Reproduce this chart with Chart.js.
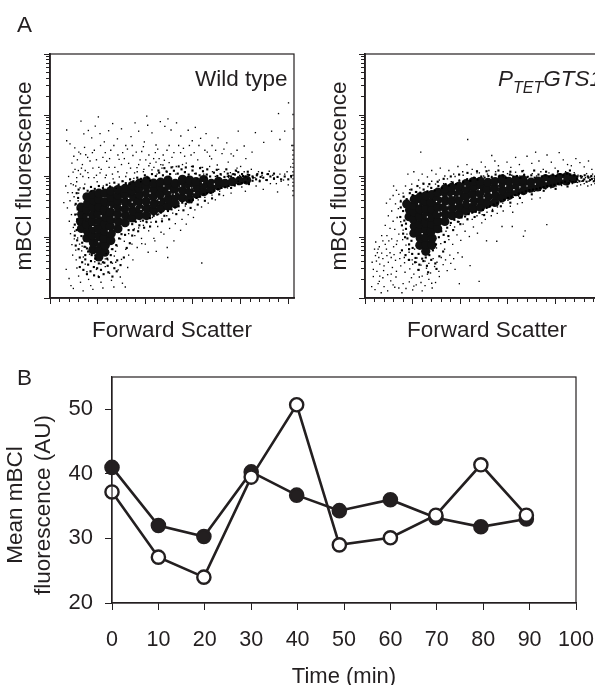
<!DOCTYPE html>
<html><head><meta charset="utf-8">
<script src="https://cdn.jsdelivr.net/npm/chart.js@4"></script>
<style>
html,body{margin:0;padding:0;background:#fff;width:595px;height:685px;overflow:hidden}
canvas{position:absolute}
.t{position:absolute;font-family:"Liberation Sans",Arial,sans-serif;font-size:22.5px;color:#231f20;white-space:nowrap;line-height:24px}
</style></head><body>
<canvas id="wt" style="left:0;top:0"></canvas>
<canvas id="tet" style="left:300px;top:0"></canvas>
<canvas id="time" style="left:0;top:360px"></canvas>
<div class="t" style="left:17px;top:13px">A</div>
<div class="t" style="left:17px;top:366px">B</div>
<div class="t" style="left:195px;top:67px">Wild type</div>
<div class="t" style="left:498px;top:67px;font-style:italic">P<span style="font-size:16px;position:relative;top:7px">TET</span>GTS1</div>
<div class="t" style="left:15px;top:505px;transform:translate(-50%,-50%) rotate(-90deg)">Mean mBCl</div>
<div class="t" style="left:43px;top:505px;transform:translate(-50%,-50%) rotate(-90deg)">fluorescence (AU)</div>
<script>
const INK='#231f20';
const FONT='"Liberation Sans",Arial,sans-serif';
// Flow cytometry channels (0-1023), y channels span four log decades
const xMajor=[0,200,400,600,800,1000];
const xMinor=[40,80,120,160,240,280,320,360,440,480,520,560,640,680,720,760,840,880,920,960];
const yMajor=[0,256,512,768,1024];
const yMinor=[77,122,154,179,199,216,231,244,333,378,410,435,455,472,487,500,589,634,666,691,711,728,743,756,845,890,922,947,967,984,999,1012];
const wtCore=[132,292,128,322,133,352,130,381,155,252,157,281,153,311,156,341,154,371,158,398,155,425,180,203,182,232,178,262,181,291,179,321,183,351,180,381,184,409,180,435,205,172,207,201,203,232,206,261,204,291,207,321,203,352,206,381,204,414,205,440,230,192,232,221,228,252,231,281,229,311,232,341,229,371,231,404,230,440,255,241,257,271,253,301,256,331,254,361,257,394,255,424,255,450,285,291,287,321,283,351,286,381,284,409,286,431,285,455,315,316,317,346,313,376,316,404,314,436,315,460,345,336,347,366,343,396,346,424,344,450,345,472,375,346,377,376,373,406,376,434,374,461,375,482,405,346,407,376,403,406,406,439,404,470,405,492,435,366,437,396,433,426,436,455,435,482,465,376,467,406,463,436,466,464,464,486,495,386,497,416,493,446,496,474,495,495,525,396,527,426,523,456,526,481,555,421,557,451,553,479,556,498,585,416,587,446,583,476,586,495,615,436,617,466,613,489,645,446,647,476,645,497,675,456,677,481,705,471,707,490,735,481,765,488,795,492,825,495];
const wtFleck=[180,300,215,345,245,282,300,388,345,402,382,372,420,440,458,410,500,452,548,470,590,462,640,484,250,382,160,340,205,236,268,340,330,418,478,470,522,436,605,442,690,478];
const wtHalo=[
120,455,142,460,158,450,172,466,188,458,205,470,222,462,238,475,252,468,270,484,288,476,304,490,318,482,336,498,350,490,366,505,382,500,398,515,412,505,428,520,444,512,458,526,474,515,490,530,504,520,520,534,536,522,552,540,566,528,582,518,598,535,612,522,628,515,642,532,658,518,672,510,688,526,702,512,716,520,732,508,746,522,760,510,776,518,790,506,806,520,820,510,836,516,852,505,868,515,884,508,
455,535,480,545,510,548,540,552,570,548,600,552,630,545,660,540,700,538,740,540,780,535,830,530,
112,440,118,420,108,395,116,372,106,350,114,330,104,308,112,285,104,262,114,242,108,220,120,205,132,260,135,232,145,215,155,208,148,180,160,195,175,180,190,165,205,145,222,150,240,165,255,180,262,205,278,222,290,250,300,268,
125,170,135,150,148,162,160,140,172,155,184,130,198,125,214,118,228,148,242,135,256,150,270,125,282,158,296,138,310,170,322,210,335,230,345,262,
125,130,140,118,155,100,170,112,185,95,205,88,225,100,245,108,262,90,280,112,
315,265,330,285,345,310,360,320,375,305,390,325,405,320,420,335,435,345,450,350,465,358,480,345,495,365,510,372,525,380,540,385,555,400,570,395,585,408,600,412,615,420,630,425,645,435,660,440,675,442,690,450,705,456,720,462,735,465,750,470,
350,285,370,280,395,295,420,300,445,320,470,322,500,330,530,352,560,368,590,378,620,392,650,408,680,418,710,435,
760,462,775,472,790,478,805,482,820,486,835,478,850,492,865,498,880,490,895,505,910,495,925,510,940,500,955,508,970,498,985,510,1000,498,1012,512,
750,512,770,520,790,528,810,512,830,518,850,510,870,520,890,525,915,520,940,522,
];
const wtSpeck=[
203,760,406,763,130,742,70,660,70,705,104,630,121,612,84,647,142,689,161,703,175,672,190,721,210,690,228,655,246,702,263,732,283,668,300,710,318,640,340,677,357,735,372,700,396,655,410,725,428,693,445,642,463,740,482,720,495,752,508,705,531,735,549,680,560,628,580,704,597,660,610,716,632,670,655,690,680,640,705,672,742,651,790,700,815,638,862,694,897,653,930,700,959,774,1001,819,985,700,1015,640,965,665,
92,566,115,580,136,560,150,601,168,575,186,620,205,548,222,590,238,574,255,620,272,548,290,582,305,610,330,565,348,598,365,547,385,615,402,580,420,565,442,610,458,585,470,545,491,620,512,590,530,552,548,610,572,566,592,600,620,580,640,548,660,612,678,584,702,558,722,606,748,570,770,596,800,552,822,585,848,612,
100,595,128,605,145,632,158,590,178,610,195,580,212,640,232,610,250,585,268,640,285,600,312,585,325,625,345,640,362,612,378,580,392,635,415,600,435,585,452,625,475,600,500,640,520,610,540,640,565,595,585,640,605,610,625,640,650,620,670,595,695,620,730,625,760,605,785,620,
112,505,128,520,98,475,105,540,132,545,148,535,162,505,180,545,195,515,215,540,232,505,248,548,265,500,285,530,300,560,318,510,338,545,355,525,372,560,392,530,415,555,428,538,445,570,465,560,480,578,500,568,
78,510,88,480,97,528,112,488,119,535,126,462,138,510,146,478,159,526,172,448,185,505,198,488,210,525,224,470,236,515,250,482,262,520,278,460,291,508,306,490,322,525,335,478,352,502,366,530,381,488,394,540,407,510,421,492,436,548,449,520,461,500,474,558,488,532,500,510,515,550,528,520,541,502,556,560,568,530,580,510,594,552,607,522,618,500,633,548,645,520,655,505,670,552,682,530,694,510,708,540,718,516,732,530,744,510,757,526,770,505,783,532,796,514,
66,470,75,442,84,408,73,378,90,350,81,322,98,296,86,270,102,248,92,224,108,201,95,180,110,160,68,120,80,82,88,52,98,40,113,126,120,92,128,66,139,30,148,142,155,110,162,78,171,52,180,36,188,152,195,120,203,92,214,66,222,42,232,132,243,160,250,104,258,74,268,46,276,150,286,118,295,88,304,62,316,46,326,128,105,390,112,352,118,310,104,280,116,252,124,226,133,198,140,172,150,214,166,184,
58,400,94,442,108,470,101,425,120,440,118,408,135,218,143,240,172,155,188,180,214,142,236,186,258,205,270,176,282,218,262,146,300,162,318,204,296,248,330,180,344,226,356,262,348,160,372,294,366,212,384,250,392,305,400,226,414,282,424,318,436,250,446,196,452,300,470,332,478,268,490,345,502,292,515,356,526,312,540,368,554,330,568,386,580,350,594,400,608,370,622,412,636,382,650,422,664,398,680,432,694,412,712,448,728,430,637,147,
232,164,275,196,312,238,330,270,354,290,380,322,406,316,430,338,456,352,385,228,412,192,440,240,466,276,492,212,520,240,548,284,572,310,602,338,494,170,
745,462,760,440,775,472,790,490,805,466,820,448,835,485,850,510,865,470,880,495,895,456,910,520,925,480,940,505,955,445,970,490,985,520,1000,475,1012,505,750,505,765,520,785,545,800,510,815,530,830,500,845,540,860,505,875,530,890,515,905,495,920,532,935,515,950,480,965,520,980,495,995,530,1010,550,
1020,430,1020,450,1020,470,1020,485,1020,500,1020,515,1020,530,1020,548,1020,565,1020,582,1020,600,1020,620,1020,640,1020,710,1020,770,
];
const tetCore=[185,341,187,369,175,395,205,272,207,301,203,331,206,361,204,389,207,414,230,221,232,251,228,281,231,311,229,341,232,371,229,401,231,424,255,196,257,226,253,256,256,286,254,316,257,346,255,376,253,406,256,430,280,221,282,251,278,281,281,311,279,341,282,371,278,401,281,434,305,291,307,321,303,351,306,381,304,411,306,444,335,321,337,351,333,381,336,411,334,444,336,459,365,346,367,376,363,406,366,436,364,464,395,351,397,381,393,411,396,441,394,469,425,366,427,396,423,426,426,456,424,480,455,376,457,406,453,436,456,466,454,489,485,381,487,411,483,441,486,471,484,490,515,396,517,426,513,456,516,485,545,401,547,431,543,461,546,489,575,421,577,451,573,481,576,500,605,431,607,461,603,490,635,446,637,476,633,495,665,451,667,481,663,496,695,461,697,486,725,466,727,491,755,476,757,500,785,481,787,500,815,491,817,505,845,491,847,510,875,500];
const tetFleck=[262,340,225,395,300,405,345,388,395,428,440,400,480,455,530,440,590,470,650,466,715,478,240,270,310,360,370,430,420,470,500,420,560,478,625,455,680,470,760,488,830,500];
const tetHalo=[
150,405,162,425,175,415,188,440,200,432,215,445,232,442,246,455,262,448,278,462,292,452,308,470,322,462,338,478,352,472,368,485,382,478,396,492,412,486,428,498,442,492,458,505,472,498,488,510,502,505,518,512,532,506,548,518,562,510,578,515,592,505,608,518,622,510,638,512,652,505,668,516,682,508,698,515,712,505,728,518,742,510,758,515,772,510,788,518,802,512,818,520,832,515,848,522,862,518,878,515,892,510,908,505,922,515,938,505,952,500,966,495,
195,455,220,470,245,480,270,478,305,488,330,500,360,510,395,518,430,525,470,532,510,532,560,535,610,530,660,532,710,535,760,530,810,532,860,535,
150,380,160,365,148,340,165,325,155,305,172,290,160,270,178,250,185,225,200,210,172,312,195,240,
168,255,185,205,198,185,212,168,225,185,240,165,255,170,270,180,285,200,298,225,310,255,320,280,
210,150,228,140,245,155,260,135,278,160,295,145,312,175,328,195,335,235,
170,180,185,160,155,200,225,118,265,108,300,122,
330,265,345,295,360,315,375,328,390,320,405,338,420,342,435,352,450,358,465,362,480,358,495,370,510,378,525,385,540,392,555,398,570,405,585,412,600,420,615,425,630,432,645,438,660,442,675,448,690,452,705,455,720,458,735,462,750,465,765,470,780,472,795,475,810,480,825,484,840,488,855,482,870,486,885,488,900,490,915,492,930,488,945,495,960,490,
350,260,370,285,400,310,430,330,460,340,500,348,535,365,570,385,610,400,650,420,700,435,750,450,800,458,850,468,
890,500,905,512,920,498,935,510,950,512,965,510,
];
const tetSpeck=[
431,665,234,612,532,598,441,136,479,70,763,308,665,259,553,238,396,60,510,240,672,282,618,300,
180,520,205,530,225,495,240,520,262,508,280,535,298,520,316,545,335,512,352,535,372,520,390,552,410,530,428,560,450,540,470,525,488,570,505,550,520,535,545,575,560,555,580,530,596,570,612,548,632,590,648,560,665,535,680,595,700,565,716,612,730,575,748,540,764,600,782,570,798,545,815,610,832,580,850,560,866,555,885,585,902,568,920,550,938,575,952,540,
170,470,188,455,196,478,212,445,230,462,246,478,264,468,280,490,296,478,312,495,330,480,346,500,362,488,378,510,396,495,412,515,430,500,446,520,462,505,480,525,498,512,514,520,532,510,548,530,564,515,580,508,598,522,616,515,632,528,650,512,668,520,684,510,702,522,720,512,738,530,756,515,772,525,790,514,808,525,826,520,842,530,860,518,878,526,894,516,912,510,930,522,946,508,962,502,
120,470,132,452,142,435,150,410,160,440,118,430,105,415,90,398,128,395,140,375,112,365,98,345,135,338,150,320,118,322,85,305,105,292,125,288,142,268,160,285,92,262,75,240,112,248,132,225,158,245,176,268,172,222,55,205,70,188,90,205,105,190,122,182,148,190,165,170,185,192,208,205,198,160,218,168,
28,48,42,35,55,60,68,22,80,48,95,30,108,72,62,92,50,112,35,120,78,115,95,98,118,55,130,88,142,42,155,22,172,40,186,68,200,34,215,55,228,88,240,30,252,52,268,78,282,42,296,65,312,90,62,142,48,155,80,135,98,150,115,128,132,112,150,135,168,108,188,122,205,100,222,118,240,92,258,125,275,105,292,132,310,112,328,140,345,115,360,145,378,120,
44,178,58,170,75,165,92,178,110,170,128,158,146,165,166,148,182,160,200,142,216,150,235,138,252,155,268,145,286,165,302,150,320,170,338,160,356,180,372,165,390,190,408,172,
60,215,45,235,70,262,85,225,100,240,120,215,135,240,52,190,40,205,30,150,35,90,60,70,75,85,110,100,125,45,160,60,195,85,205,50,235,65,262,100,280,62,
300,210,318,228,334,205,352,245,368,225,386,265,402,242,420,280,438,258,455,298,472,272,490,315,340,280,358,305,376,298,395,320,412,310,430,332,450,330,470,345,492,350,512,360,535,372,556,382,578,398,600,410,622,422,645,428,668,438,690,446,712,448,735,452,758,458,780,462,802,470,825,472,848,478,870,480,892,485,
505,330,530,345,555,355,580,365,610,385,640,395,575,300,620,360,660,400,700,415,735,420,
880,520,895,495,910,490,925,505,940,490,955,520,968,495,890,470,905,475,920,480,935,470,950,475,965,480,860,492,875,488,
];
const timeMin=[0,10,19.8,30,39.8,49,60,69.8,79.5,89.3];
const meanFilled=[41,32,30.3,40.3,36.7,34.3,36,33.2,31.8,33];
const meanOpen=[37.2,27.1,24,39.5,50.7,29,30.1,33.6,41.4,33.6];
const timeTicks=[0,10,20,30,40,50,60,70,80,90,100];
const meanTicks=[20,30,40,50];

const toPoints=f=>{const o=[];for(let i=0;i<f.length;i+=2)o.push({x:f[i],y:f[i+1]});return o;};
const frame={id:'frame',afterDraw(c){const a=c.chartArea,g=c.ctx;g.save();g.strokeStyle=INK;g.lineWidth=1.2;g.strokeRect(a.left,a.top,a.right-a.left,a.bottom-a.top);g.restore();}};
const setTicks=arr=>s=>{s.ticks=arr.map(v=>({value:v}));};
const noPad=s=>{s.paddingLeft=s.paddingRight=s.paddingTop=s.paddingBottom=0;};
function flowAxis(list,len,weight,extra){
  return Object.assign({type:'linear',min:0,max:1024,weight,afterBuildTicks:setTicks(list),
    ticks:{display:false,autoSkip:false},
    grid:{drawOnChartArea:false,drawTicks:true,tickLength:len,color:INK,tickWidth:1},
    border:{color:INK,width:1.5}},extra);
}
function flow(id,w,left,titlePad,core,halo,speck,fleck){
  const cv=document.getElementById(id);
  cv.width=w;cv.height=344;cv.style.width=w+'px';cv.style.height='344px';
  const font={family:FONT,size:22.5};
  new Chart(cv,{type:'scatter',
    data:{datasets:[
      {data:toPoints(fleck),pointStyle:'rect',pointRadius:0.85,backgroundColor:'#fff',borderWidth:0,order:0},
      {data:toPoints(speck),pointStyle:'rect',pointRadius:0.95,backgroundColor:'#000',borderWidth:0,order:1},
      {data:toPoints(halo),pointStyle:'rect',pointRadius:1.5,backgroundColor:'#000',borderWidth:0,order:2},
      {data:toPoints(core),pointStyle:'circle',pointRadius:4.6,backgroundColor:'#111',borderWidth:0,order:3}]},
    plugins:[frame],
    options:{responsive:false,animation:false,devicePixelRatio:1,
      layout:{autoPadding:false,padding:{top:54,right:w-left-244,left:0,bottom:0}},
      plugins:{legend:{display:false},tooltip:{enabled:false},title:{display:false}},
      scales:{
        x:flowAxis(xMinor,4,1,{position:'bottom',afterFit:s=>{s.height=46;noPad(s);},title:{display:true,text:'Forward Scatter',color:INK,font,padding:0}}),
        xMajor:flowAxis(xMajor,6,0,{position:'bottom',afterFit:s=>{s.height=0;noPad(s);}}),
        y:flowAxis(yMinor,4,1,{position:'left',afterFit:s=>{s.width=left;noPad(s);},title:{display:true,text:'mBCl fluorescence',color:INK,font,padding:{top:titlePad,bottom:0}}}),
        yMajor:flowAxis(yMajor,6,0,{position:'left',afterFit:s=>{s.width=0;noPad(s);}})
      }}});
}
flow('wt',300,50,11,wtCore,wtHalo,wtSpeck,wtFleck);
flow('tet',320,65,26,tetCore,tetHalo,tetSpeck,tetFleck);

const cv=document.getElementById('time');
cv.width=595;cv.height=330;cv.style.width='595px';cv.style.height='330px';
const line=(vals,fill,ord)=>({data:timeMin.map((t,i)=>({x:t,y:vals[i]})),showLine:true,borderColor:INK,borderWidth:2.6,
  pointRadius:6.6,pointBorderWidth:2.4,pointBorderColor:INK,pointBackgroundColor:fill,backgroundColor:fill,clip:false,order:ord,tension:0});
new Chart(cv,{type:'scatter',
  data:{datasets:[line(meanFilled,INK,2),line(meanOpen,'#fff',1)]},
  plugins:[frame],
  options:{responsive:false,animation:false,devicePixelRatio:1,
    layout:{autoPadding:false,padding:{top:17,right:19,left:0,bottom:0}},
    plugins:{legend:{display:false},tooltip:{enabled:false}},
    scales:{
      x:{type:'linear',min:0,max:100,position:'bottom',afterBuildTicks:setTicks(timeTicks),afterFit:s=>{s.height=87;noPad(s);},
        ticks:{autoSkip:false,maxRotation:0,color:INK,padding:17,font:{family:FONT,size:21.5},callback:v=>String(v)},
        grid:{drawOnChartArea:false,tickLength:7,color:INK},border:{color:INK,width:1.2},
        title:{display:true,text:'Time (min)',color:INK,font:{family:FONT,size:22},padding:0}},
      y:{type:'linear',min:20,max:55,position:'left',afterBuildTicks:setTicks(meanTicks),afterFit:s=>{s.width=112;noPad(s);},
        ticks:{color:INK,padding:12,font:{family:FONT,size:22},callback:v=>String(v)},
        grid:{drawOnChartArea:false,tickLength:7,color:INK},border:{color:INK,width:1.2}}
    }}});
</script>
</body></html>
